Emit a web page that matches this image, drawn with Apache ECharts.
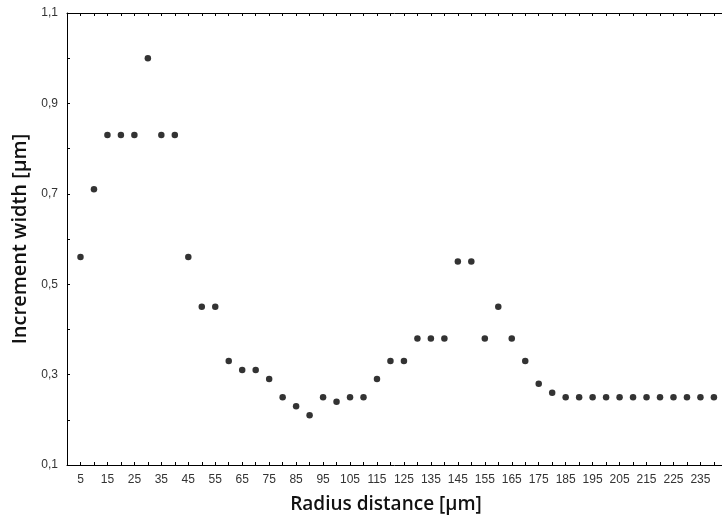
<!DOCTYPE html>
<html>
<head>
<meta charset="utf-8">
<script src="https://cdn.jsdelivr.net/npm/echarts@6/dist/echarts.min.js"></script>
<style>
    html, body { margin: 0; padding: 0; background: #fff; }
    #chart { width: 722px; height: 522px; }
</style>
</head>
<body>
<div id="chart"></div>
<script>
// 半径距离 (µm)
const radius = [5, 10, 15, 20, 25, 30, 35, 40, 45, 50, 55, 60, 65, 70, 75, 80, 85, 90, 95, 100,
    105, 110, 115, 120, 125, 130, 135, 140, 145, 150, 155, 160, 165, 170, 175, 180,
    185, 190, 195, 200, 205, 210, 215, 220, 225, 230, 235, 240];
// 增量宽度 (µm)
const width = [0.56, 0.71, 0.83, 0.83, 0.83, 1.00, 0.83, 0.83, 0.56, 0.45, 0.45, 0.33, 0.31, 0.31, 0.29, 0.25, 0.23, 0.21, 0.25, 0.24,
    0.25, 0.25, 0.29, 0.33, 0.33, 0.38, 0.38, 0.38, 0.55, 0.55, 0.38, 0.45, 0.38, 0.33, 0.28, 0.26,
    0.25, 0.25, 0.25, 0.25, 0.25, 0.25, 0.25, 0.25, 0.25, 0.25, 0.25, 0.25];

let myChart = echarts.init(document.getElementById('chart'));

let option = {
    animation: false,
    grid: {     //设置图表位置
        left: 67,
        right: 0,
        top: 13,
        bottom: 57,
        outerBoundsMode: 'none'
    },
    xAxis: [
        {
            type: 'value',
            min: 0,
            max: 243,
            interval: 5,
            name: 'Radius distance [\u00b5m]',
            nameLocation: 'middle',
            nameGap: 30,
            nameTextStyle: {
                fontFamily: 'Open Sans',
                fontWeight: 600,
                fontSize: 19,
                color: '#111',
                padding: [0, 17, 0, 0]
            },
            axisLine: {
                onZero: false,
                lineStyle: { color: '#000', width: 1 }
            },
            axisTick: {
                inside: true,
                length: 3,
                lineStyle: { color: '#000' }
            },
            axisLabel: {
                fontFamily: 'Liberation Sans',
                fontSize: 12,
                color: '#333',
                margin: 9,
                showMaxLabel: false,
                formatter: function (v) {   //只显示 5,15,25...
                    return (Math.round(v) - 5) % 10 === 0 ? String(Math.round(v)) : '';
                }
            },
            splitLine: { show: false }
        },
        {
            // 顶部轴线
            type: 'value',
            position: 'top',
            min: 0,
            max: 243,
            interval: 5,
            axisLine: {
                onZero: false,
                lineStyle: { color: '#000', width: 1 }
            },
            axisTick: {
                inside: true,
                length: 3,
                lineStyle: { color: '#000' }
            },
            axisLabel: { show: false },
            splitLine: { show: false }
        }
    ],
    yAxis: {
        type: 'value',
        min: 0.1,
        max: 1.1,
        interval: 0.1,
        name: 'Increment width [\u00b5m]',
        nameLocation: 'middle',
        nameGap: 35,
        nameTextStyle: {
            fontFamily: 'Open Sans',
            fontWeight: 600,
            fontSize: 20,
            color: '#111'
        },
        axisLine: {
            show: true,
            lineStyle: { color: '#000', width: 1 }
        },
        axisTick: {
            inside: true,
            length: 3,
            lineStyle: { color: '#000' }
        },
        axisLabel: {
            fontFamily: 'Liberation Sans',
            fontSize: 12,
            color: '#333',
            margin: 9,
            formatter: function (v) {   //只显示 0,1 0,3 ...
                let k = Math.round(v * 10);
                return k % 2 === 1 ? (k / 10).toFixed(1).replace('.', ',') : '';
            }
        },
        splitLine: { show: false }
    },
    series: [
        {
            type: 'scatter',
            data: radius.map((r, i) => [r, width[i]]),
            symbol: 'circle',
            symbolSize: 6.5,
            itemStyle: {
                color: '#000'
            }
        }
    ]
};

myChart.setOption(option);
</script>
</body>
</html>
